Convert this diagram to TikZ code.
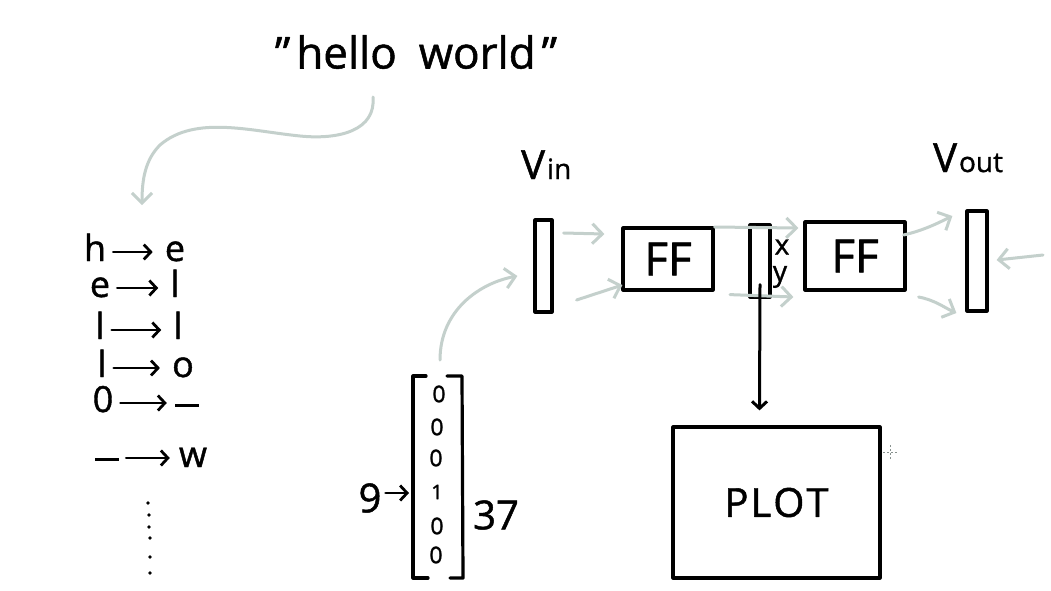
\documentclass[tikz,border=0pt]{standalone}
\usepackage{fontspec}
\setmainfont{Open Sans}[FakeBold=1.2]
\usetikzlibrary{arrows.meta,calc}
\definecolor{ghost}{RGB}{196,208,204}
\begin{document}
\begin{tikzpicture}[x=1pt,y=-1pt,
  ink/.style={line width=3.2pt, black, line cap=round, line join=round},
  faint/.style={line width=3pt, ghost, line cap=round, -{Straight Barb[length=10pt,width=20pt,line width=3pt]}},
  blackarrow/.style={line width=3pt, black, line cap=round, -{Straight Barb[length=7pt,width=15pt,line width=3pt]}},
  smallarrow/.style={line width=2.8pt, black, line cap=round, -{Straight Barb[length=7pt,width=15pt,line width=2.8pt]}},
  box/.style={draw, line width=3.2pt, inner sep=0pt, line join=round},
  hand/.style={inner sep=0pt},
  listl/.style={font=\fontsize{36}{36}\selectfont, text height=18pt, text depth=0pt, inner xsep=7pt, inner ysep=0pt},
  listr/.style={listl, inner xsep=12pt},
  vecch/.style={font=\fontsize{23}{23}\selectfont, inner sep=0pt}
]
\useasboundingbox (0,0) rectangle (1051,590);
\fill[white] (0,0) rectangle (1051,590);

% title
\node[hand, font=\fontsize{44}{44}\selectfont] (hw) at (416,52) {"\hspace{6pt}hello\hspace{22pt}world\hspace{6pt}"};
\coordinate (hwfoot) at (373,97);

% list
\node[listl] (l1) at (95,252) {h};
\node[listr] (r1) at (175,252) {e};
\node[listl] (l2) at (100,288) {e};
\node[listr] (r2) at (175,288) {l};
\node[listl] (l3) at (100,330) {l};
\node[listr] (r3) at (178,330) {l};
\node[listl] (l4) at (102,368) {l};
\node[listr] (r4) at (183,368) {o};
\node[listl] (l5) at (103,403) {0};
\node[listr, inner xsep=8pt] (r5) at (187,403) {\rule[5pt]{24pt}{3pt}};
\node[listl] (l6) at (107,458) {\rule[6pt]{24pt}{3pt}};
\node[listr, inner xsep=9pt] (r6) at (193,458) {w};
\foreach \i in {1,...,6} \draw[smallarrow] (l\i.east) -- (r\i.west);
\foreach \p in {(148,503),(149,515),(149,527),(150,538),(150,557),(150,573)}
  \fill \p circle (1.8);

\draw[faint] (hwfoot) .. controls (376,130) and (340,140) .. (300,136)
  .. controls (250,131) and (195,115) .. (160,145)
  .. controls (145,160) and (142,180) .. (142,205);

% one-hot vector
\draw[ink] (426,376) -- (413,376) -- (413,578) -- (428,578);
\draw[ink] (447,376) -- (462,376) -- (463,578) -- (450,578);
\coordinate (vectop) at (440,360);
\node[vecch] at (439,394) {0};
\node[vecch] at (437,427) {0};
\node[vecch] at (436,458) {0};
\node[vecch, font=\fontsize{20}{20}\selectfont] at (437,492) {1};
\node[vecch] at (437,526) {0};
\node[vecch] at (436,555) {0};
\node[hand, font=\fontsize{40}{40}\selectfont] (nine) at (370,498) {9};
\coordinate (ninearrow) at (409,493);
\draw[smallarrow] ($(nine.east)+(4,-5)$) -- (ninearrow);
\node[hand, font=\fontsize{40}{40}\selectfont] (tt) at (496,515) {37};

% network
\node[box, minimum width=17pt, minimum height=92pt] (vin) at (543.5,266) {};
\node[box, minimum width=90pt, minimum height=62pt, font=\fontsize{46}{46}\selectfont] (ff1) at (668,259) {FF};
\node[box, minimum width=20pt, minimum height=72pt] (xb) at (760,261) {};
\node[box, minimum width=100pt, minimum height=68pt, font=\fontsize{46}{46}\selectfont] (ff2) at (855,256) {FF};
\node[box, minimum width=20pt, minimum height=100pt] (vout) at (977,261) {};
\node[box, minimum width=207pt, minimum height=151pt, font=\fontsize{40}{40}\selectfont] (plot) at (776.5,502.5) {P\kern2pt L\kern2pt O\kern2pt T};

\node[hand, font=\fontsize{40}{40}\selectfont, anchor=base west] (vinl) at (521,179) {V\kern2pt{\fontsize{28}{28}\selectfont in}};
\node[hand, font=\fontsize{40}{40}\selectfont, anchor=base west] (voutl) at (933,172) {V\kern2pt{\fontsize{28}{28}\selectfont out}};
\node[hand, font=\fontsize{28}{28}\selectfont] (xl) at (782,247) {x};
\node[hand, font=\fontsize{28}{28}\selectfont] (yl) at (780,277) {y};

\draw[faint] (vectop) .. controls (440,310) and (480,283) .. ($(vin.west)+(-16,10)$);
\draw[faint] ($(vin.east)+(10,-33)$) -- ($(ff1.west)+(-17,-25)$);
\draw[faint] ($(vin.east)+(23,34)$) -- ($(ff1.west)+(1,26)$);
\draw[faint] ($(ff1.east)+(0,-32)$) -- ($(ff2.west)+(-5,-28)$);
\draw[faint] ($(xb.south)+(-30,-4)$) -- ($(ff2.west)+(-10,41)$);
\draw[faint] ($(ff2.east)+(-3,-21)$) .. controls (925,230) and (940,222) .. ($(vout.west)+(-13,-45)$);
\draw[faint] ($(ff2.east)+(12,41)$) .. controls (935,300) and (945,308) .. ($(vout.west)+(-9,52)$);
\coordinate (rightin) at (1043,255);
\draw[faint] (rightin) -- ($(vout.east)+(8,-1)$);

\draw[blackarrow] ($(xb.south)+(0,-14)$) -- ($(plot.north)+(-17,-15)$);

% cursor mark
\draw[ghost!70!black, line width=0.8pt, dash pattern=on 2pt off 2pt] (883,452) -- (897,452) (890,445) -- (890,459);
\end{tikzpicture}
\end{document}
